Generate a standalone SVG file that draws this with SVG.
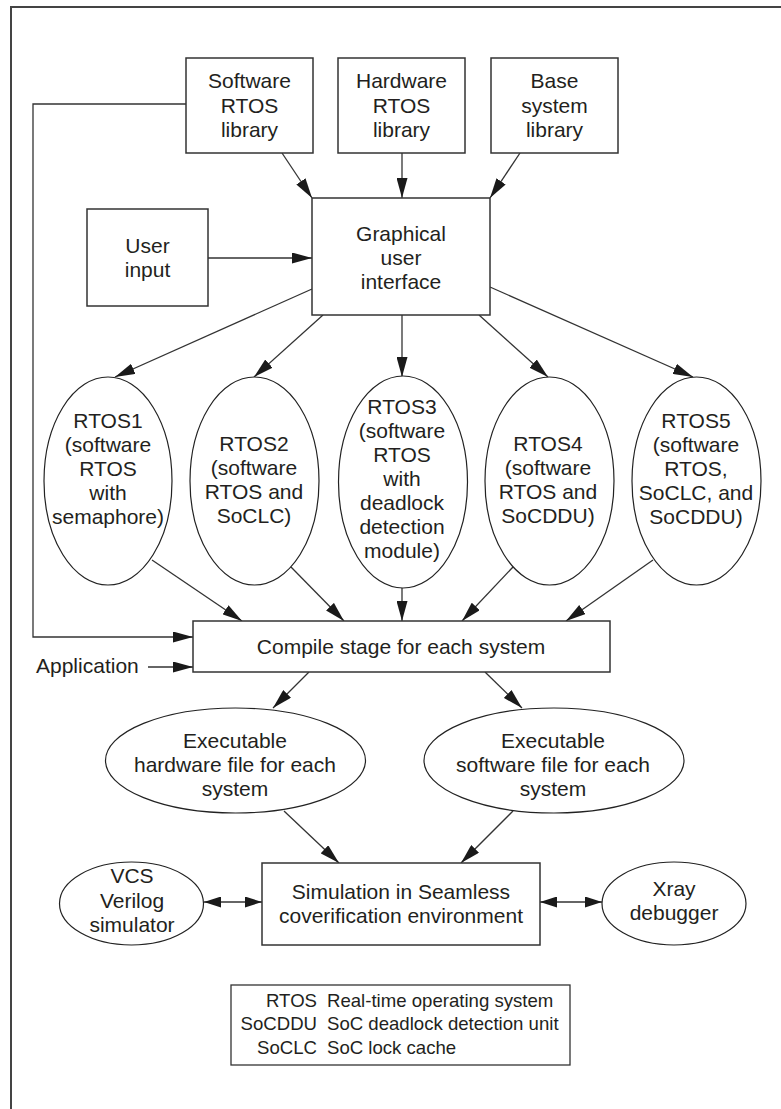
<svg xmlns="http://www.w3.org/2000/svg" width="781" height="1109" viewBox="0 0 781 1109">
<style>
.box{fill:#fff;stroke:#333;stroke-width:1.5}
.ell{fill:#fff;stroke:#222;stroke-width:1.2}
.t{font-family:"Liberation Sans",Arial,sans-serif;font-size:21px;fill:#231f20;text-anchor:middle}
.lg{font-family:"Liberation Sans",Arial,sans-serif;font-size:18.6px;fill:#231f20}
.c{fill:none;stroke:#333;stroke-width:1.3}
.a{marker-end:url(#ah)}
</style>
<defs>
<marker id="ah" markerUnits="userSpaceOnUse" markerWidth="20" markerHeight="11" refX="20" refY="5.5" orient="auto">
<path d="M0,0 L20,5.5 L0,11 z" fill="#1a1a1a"/>
</marker>
<marker id="ah2" markerUnits="userSpaceOnUse" markerWidth="17" markerHeight="11" refX="17" refY="5.5" orient="auto">
<path d="M0,0 L17,5.5 L0,11 z" fill="#1a1a1a"/>
</marker>
<marker id="ah2s" markerUnits="userSpaceOnUse" markerWidth="17" markerHeight="11" refX="0" refY="5.5" orient="auto">
<path d="M17,0 L0,5.5 L17,11 z" fill="#1a1a1a"/>
</marker>
</defs>
<rect width="781" height="1109" fill="#fff"/>
<path d="M11,1109 V7 H781" fill="none" stroke="#444" stroke-width="2"/>

<g id="connectors">
<path class="c" d="M186,104 H33 V637 H193" marker-end="url(#ah)"/>
<line class="c a" x1="282" y1="153" x2="312" y2="198"/>
<line class="c a" x1="402" y1="153" x2="402" y2="198"/>
<line class="c a" x1="520" y1="153" x2="490" y2="198"/>
<line class="c a" x1="208" y1="258" x2="312" y2="258"/>
<line class="c a" x1="312" y1="289" x2="115" y2="377"/>
<line class="c a" x1="323" y1="315" x2="254" y2="377"/>
<line class="c a" x1="402" y1="315" x2="402" y2="377"/>
<line class="c a" x1="479" y1="315" x2="548" y2="377"/>
<line class="c a" x1="490" y1="287" x2="693" y2="377"/>
<line class="c a" x1="152" y1="560" x2="242" y2="621"/>
<line class="c a" x1="291" y1="567" x2="344" y2="621"/>
<line class="c a" x1="402" y1="588" x2="402" y2="621"/>
<line class="c a" x1="513" y1="567" x2="462" y2="621"/>
<line class="c a" x1="653" y1="560" x2="566" y2="621"/>
<line class="c a" x1="148" y1="667" x2="193" y2="667"/>
<line class="c a" x1="309" y1="672" x2="273" y2="708"/>
<line class="c a" x1="485" y1="672" x2="522" y2="708"/>
<line class="c a" x1="284" y1="811" x2="339" y2="863"/>
<line class="c a" x1="513" y1="811" x2="461" y2="863"/>
<line class="c" x1="204" y1="902" x2="262" y2="902" marker-start="url(#ah2s)" marker-end="url(#ah2)"/>
<line class="c" x1="540" y1="902" x2="602" y2="902" marker-start="url(#ah2s)" marker-end="url(#ah2)"/>
</g>

<g id="sw-lib">
<rect class="box" x="186" y="58" width="127" height="95"/>
<text class="t" x="249.5" y="88.3">Software</text>
<text class="t" x="249.5" y="112.6">RTOS</text>
<text class="t" x="249.5" y="136.9">library</text>
</g>
<g id="hw-lib">
<rect class="box" x="338" y="58" width="127" height="95"/>
<text class="t" x="401.5" y="88.3">Hardware</text>
<text class="t" x="401.5" y="112.6">RTOS</text>
<text class="t" x="401.5" y="136.9">library</text>
</g>
<g id="base-lib">
<rect class="box" x="491" y="58" width="127" height="95"/>
<text class="t" x="554.5" y="88.3">Base</text>
<text class="t" x="554.5" y="112.6">system</text>
<text class="t" x="554.5" y="136.9">library</text>
</g>
<g id="gui">
<rect class="box" x="312" y="198" width="178" height="117"/>
<text class="t" x="401" y="241">Graphical</text>
<text class="t" x="401" y="265">user</text>
<text class="t" x="401" y="289">interface</text>
</g>
<g id="user-input">
<rect class="box" x="87" y="209" width="121" height="97"/>
<text class="t" x="147.5" y="253">User</text>
<text class="t" x="147.5" y="277">input</text>
</g>

<g id="rtos1">
<ellipse class="ell" cx="108" cy="481" rx="64" ry="104"/>
<text class="t" x="108" y="428">RTOS1</text>
<text class="t" x="108" y="452">(software</text>
<text class="t" x="108" y="476">RTOS</text>
<text class="t" x="108" y="500">with</text>
<text class="t" x="108" y="524">semaphore)</text>
</g>
<g id="rtos2">
<ellipse class="ell" cx="254.5" cy="481" rx="64.5" ry="104"/>
<text class="t" x="254" y="451">RTOS2</text>
<text class="t" x="254" y="475">(software</text>
<text class="t" x="254" y="499">RTOS and</text>
<text class="t" x="254" y="523">SoCLC)</text>
</g>
<g id="rtos3">
<ellipse class="ell" cx="403" cy="482" rx="64.5" ry="106"/>
<text class="t" x="402" y="414">RTOS3</text>
<text class="t" x="402" y="438">(software</text>
<text class="t" x="402" y="462">RTOS</text>
<text class="t" x="402" y="486">with</text>
<text class="t" x="402" y="510">deadlock</text>
<text class="t" x="402" y="534">detection</text>
<text class="t" x="402" y="558">module)</text>
</g>
<g id="rtos4">
<ellipse class="ell" cx="549.5" cy="481" rx="64.5" ry="104"/>
<text class="t" x="548" y="451">RTOS4</text>
<text class="t" x="548" y="475">(software</text>
<text class="t" x="548" y="499">RTOS and</text>
<text class="t" x="548" y="523">SoCDDU)</text>
</g>
<g id="rtos5">
<ellipse class="ell" cx="696.5" cy="481" rx="64.5" ry="104"/>
<text class="t" x="696" y="428">RTOS5</text>
<text class="t" x="696" y="452">(software</text>
<text class="t" x="696" y="476">RTOS,</text>
<text class="t" x="696" y="500">SoCLC, and</text>
<text class="t" x="696" y="524">SoCDDU)</text>
</g>

<g id="compile">
<rect class="box" x="193" y="621" width="417" height="51"/>
<text class="t" x="401" y="654">Compile stage for each system</text>
</g>
<g id="application">
<text class="t" x="36" y="673" style="text-anchor:start">Application</text>
</g>

<g id="exe-hw">
<ellipse class="ell" cx="235.5" cy="760.5" rx="130" ry="52.5"/>
<text class="t" x="235" y="747.5">Executable</text>
<text class="t" x="235" y="771.5">hardware file for each</text>
<text class="t" x="235" y="795.5">system</text>
</g>
<g id="exe-sw">
<ellipse class="ell" cx="554" cy="760.5" rx="130" ry="52.5"/>
<text class="t" x="553" y="747.5">Executable</text>
<text class="t" x="553" y="771.5">software file for each</text>
<text class="t" x="553" y="795.5">system</text>
</g>

<g id="simulation">
<rect class="box" x="262" y="863" width="278" height="82"/>
<text class="t" x="401" y="899">Simulation in Seamless</text>
<text class="t" x="401" y="923">coverification environment</text>
</g>
<g id="vcs">
<ellipse class="ell" cx="131.5" cy="903.5" rx="72" ry="41.5"/>
<text class="t" x="132" y="882.5">VCS</text>
<text class="t" x="132" y="907.5">Verilog</text>
<text class="t" x="132" y="931.5">simulator</text>
</g>
<g id="xray">
<ellipse class="ell" cx="674" cy="903.5" rx="72" ry="41.5"/>
<text class="t" x="674" y="896">Xray</text>
<text class="t" x="674" y="919.5">debugger</text>
</g>

<g id="legend">
<rect class="box" x="231" y="985" width="339" height="80" style="stroke-width:1.3"/>
<text class="lg" x="317" y="1006.7" text-anchor="end">RTOS</text>
<text class="lg" x="327" y="1006.7">Real-time operating system</text>
<text class="lg" x="317" y="1030" text-anchor="end">SoCDDU</text>
<text class="lg" x="327" y="1030">SoC deadlock detection unit</text>
<text class="lg" x="317" y="1054" text-anchor="end">SoCLC</text>
<text class="lg" x="327" y="1054">SoC lock cache</text>
</g>
</svg>
